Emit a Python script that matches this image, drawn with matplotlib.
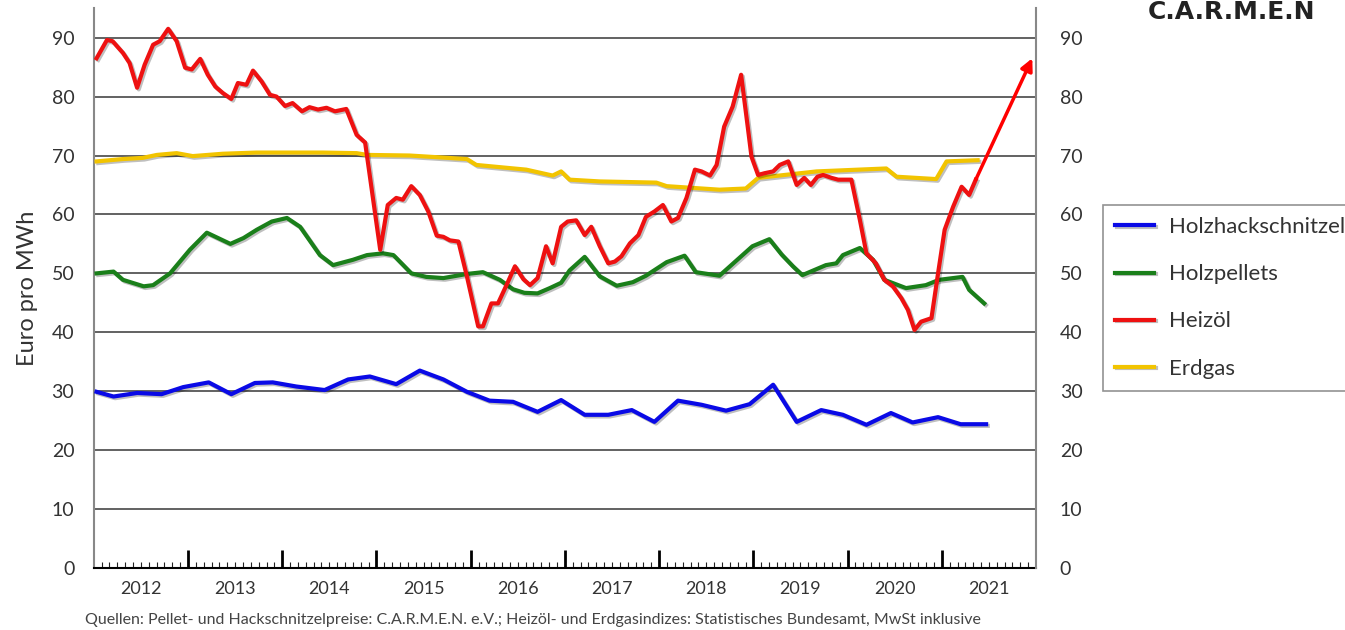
import numpy as np
import matplotlib.pyplot as plt
import matplotlib.patheffects as pe

plt.rcParams['font.family'] = ['Lato', 'DejaVu Sans']

# Holzhackschnitzel, Euro pro MWh
hhs_jahr = [2012.03, 2012.21, 2012.46, 2012.72, 2012.95, 2013.22, 2013.46, 2013.71,
            2013.90, 2014.15, 2014.45, 2014.70, 2014.93, 2015.21, 2015.46, 2015.71,
            2015.96, 2016.20, 2016.45, 2016.71, 2016.96, 2017.21, 2017.46, 2017.71,
            2017.95, 2018.20, 2018.45, 2018.71, 2018.96, 2019.21, 2019.46, 2019.72,
            2019.95, 2020.20, 2020.46, 2020.69, 2020.96, 2021.20, 2021.47]
hhs_preis = [29.9, 29.1, 29.7, 29.5, 30.7, 31.5, 29.5, 31.4,
             31.5, 30.8, 30.2, 32.0, 32.5, 31.2, 33.5, 32.0,
             29.9, 28.4, 28.2, 26.5, 28.5, 26.0, 26.0, 26.8,
             24.8, 28.4, 27.7, 26.7, 27.8, 31.1, 24.8, 26.8,
             26.0, 24.3, 26.3, 24.7, 25.6, 24.4, 24.4]

# Holzpellets
pel_jahr = [2012.03, 2012.21, 2012.31, 2012.53, 2012.63, 2012.81, 2013.02, 2013.20,
            2013.45, 2013.59, 2013.73, 2013.89, 2014.05, 2014.19, 2014.40, 2014.54,
            2014.75, 2014.90, 2015.07, 2015.18, 2015.37, 2015.53, 2015.71, 2015.96,
            2016.13, 2016.31, 2016.45, 2016.57, 2016.71, 2016.84, 2016.96, 2017.05,
            2017.21, 2017.37, 2017.55, 2017.72, 2017.86, 2018.08, 2018.27, 2018.39,
            2018.64, 2018.85, 2018.99, 2019.17, 2019.30, 2019.42, 2019.52, 2019.77,
            2019.88, 2019.95, 2020.13, 2020.27, 2020.39, 2020.62, 2020.83, 2020.97,
            2021.22, 2021.29, 2021.45]
pel_preis = [50.0, 50.3, 48.9, 47.8, 48.0, 50.0, 54.0, 56.9,
             55.0, 56.0, 57.4, 58.8, 59.4, 57.9, 53.1, 51.4,
             52.3, 53.1, 53.4, 53.1, 50.0, 49.4, 49.2, 49.9,
             50.2, 48.9, 47.3, 46.7, 46.6, 47.5, 48.4, 50.5,
             52.8, 49.5, 47.9, 48.5, 49.6, 51.9, 53.0, 50.2,
             49.6, 52.6, 54.6, 55.8, 53.2, 51.2, 49.7, 51.4,
             51.7, 53.1, 54.3, 52.3, 48.9, 47.5, 48.0, 48.9,
             49.4, 47.2, 44.9]

# Heizoel
oel_jahr = [2012.03, 2012.14, 2012.20, 2012.31, 2012.38, 2012.46, 2012.54, 2012.63,
            2012.70, 2012.79, 2012.88, 2012.97, 2013.04, 2013.13, 2013.21, 2013.29,
            2013.37, 2013.46, 2013.53, 2013.62, 2013.69, 2013.78, 2013.87, 2013.94,
            2014.03, 2014.11, 2014.21, 2014.29, 2014.38, 2014.47, 2014.56, 2014.68,
            2014.79, 2014.88, 2015.04, 2015.12, 2015.21, 2015.28, 2015.37, 2015.46,
            2015.55, 2015.64, 2015.71, 2015.78, 2015.87, 2015.96, 2016.08, 2016.13,
            2016.22, 2016.29, 2016.38, 2016.47, 2016.56, 2016.63, 2016.71, 2016.80,
            2016.87, 2016.96, 2017.03, 2017.12, 2017.21, 2017.28, 2017.37, 2017.46,
            2017.53, 2017.60, 2017.69, 2017.78, 2017.86, 2017.95, 2018.04, 2018.13,
            2018.20, 2018.29, 2018.38, 2018.45, 2018.54, 2018.61, 2018.69, 2018.78,
            2018.87, 2018.94, 2018.98, 2019.05, 2019.12, 2019.21, 2019.28, 2019.37,
            2019.46, 2019.54, 2019.61, 2019.68, 2019.74, 2019.83, 2019.90, 2020.04,
            2020.13, 2020.20, 2020.30, 2020.39, 2020.48, 2020.57, 2020.64, 2020.71,
            2020.78, 2020.89, 2020.96, 2021.03, 2021.12, 2021.21, 2021.29, 2021.36]
oel_preis = [86.5, 89.6, 89.4, 87.4, 85.7, 81.5, 85.4, 88.8,
             89.4, 91.5, 89.4, 84.9, 84.6, 86.4, 83.7, 81.7,
             80.6, 79.6, 82.3, 82.0, 84.4, 82.6, 80.3, 80.0,
             78.4, 78.9, 77.5, 78.2, 77.8, 78.1, 77.5, 77.9,
             73.5, 72.2, 54.0, 61.6, 62.8, 62.5, 64.8, 63.3,
             60.5, 56.4, 56.2, 55.6, 55.4, 49.5, 41.0, 41.0,
             44.9, 44.9, 48.0, 51.2, 49.0, 48.0, 49.2, 54.6,
             51.7, 57.9, 58.8, 59.0, 56.5, 57.9, 54.6, 51.7,
             52.0, 52.9, 55.1, 56.5, 59.6, 60.5, 61.6, 58.8,
             59.4, 62.8, 67.6, 67.3, 66.6, 68.4, 74.9, 78.3,
             83.7, 74.9, 69.8, 66.7, 67.0, 67.3, 68.4, 69.0,
             65.0, 66.2, 65.0, 66.4, 66.7, 66.2, 65.9, 65.9,
             59.1, 53.4, 51.7, 48.9, 47.8, 45.8, 43.8, 40.4,
             41.8, 42.4, 50.0, 57.4, 61.3, 64.7, 63.3, 65.9]

# Erdgas
gas_jahr = [2012.03, 2012.31, 2012.52, 2012.67, 2012.88, 2013.05, 2013.37, 2013.73,
            2014.43, 2014.79, 2014.90, 2015.35, 2015.96, 2016.06, 2016.59, 2016.87,
            2016.96, 2017.05, 2017.37, 2017.97, 2018.08, 2018.64, 2018.92, 2019.05,
            2019.67, 2020.41, 2020.52, 2020.94, 2021.05, 2021.38]
gas_preis = [69.0, 69.4, 69.6, 70.1, 70.4, 69.9, 70.3, 70.5,
             70.5, 70.4, 70.1, 70.0, 69.4, 68.4, 67.6, 66.6,
             67.3, 65.9, 65.6, 65.4, 64.8, 64.2, 64.4, 66.2,
             67.3, 67.8, 66.4, 66.0, 69.0, 69.2]

# Trendpfeil Heizoel
pfeil_ziel = (2021.96, 86.5)

jahre = list(range(2012, 2022))
quelle = ("Quellen: Pellet- und Hackschnitzelpreise: C.A.R.M.E.N. e.V.; "
          "Heizöl- und Erdgasindizes: Statistisches Bundesamt, MwSt inklusive")

fig = plt.figure(figsize=(13.45, 6.3), dpi=100)
ax = fig.add_axes([0.0697, 0.0984, 0.7006, 0.8886])
ax.set_xlim(2012, 2022)
ax.set_ylim(0, 95)

schatten = [pe.SimpleLineShadow(offset=(1.2, -1.2), alpha=0.25, shadow_color='black'),
            pe.Normal()]

reihen = [
    (hhs_jahr, hhs_preis, '#0a0ae6', 'Holzhackschnitzel', 3),
    (pel_jahr, pel_preis, '#1a7f1a', 'Holzpellets', 3),
    (oel_jahr, oel_preis, '#ee1111', 'Heizöl', 5),
    (gas_jahr, gas_preis, '#f2c400', 'Erdgas', 4),
]
for x, y, farbe, name, z in reihen:
    ax.plot(x, y, color=farbe, lw=3, label=name, zorder=z,
            solid_joinstyle='round', path_effects=schatten)

ax.annotate('', xy=pfeil_ziel, xytext=(oel_jahr[-1], oel_preis[-1]),
            arrowprops=dict(arrowstyle='-|>', color='#ff0000', lw=2.5,
                            mutation_scale=18, shrinkA=0, shrinkB=0), zorder=6)

# y-Achse links und rechts
ax.set_yticks(range(0, 100, 10))
ax.yaxis.grid(True, color='#555555', lw=1.3)
ax.set_axisbelow(True)
ax.tick_params(axis='y', length=0, pad=14, labelsize=14, labelcolor='#333333')
ax.set_ylabel('Euro pro MWh', fontsize=17, color='#333333')
ax.yaxis.set_label_coords(-0.059, 0.5)

ax2 = ax.twinx()
ax2.set_ylim(0, 95)
ax2.set_yticks(range(0, 100, 10))
ax2.tick_params(axis='y', length=0, pad=17, labelsize=14, labelcolor='#333333')

for a in (ax, ax2):
    a.spines['top'].set_visible(False)
ax.spines['right'].set_visible(False)
ax2.spines['left'].set_visible(False)
ax2.spines['bottom'].set_visible(False)
ax.spines['left'].set_color('#888888')
ax.spines['left'].set_linewidth(1.5)
ax2.spines['right'].set_color('#888888')
ax2.spines['right'].set_linewidth(1.5)
ax.spines['bottom'].set_color('black')
ax.spines['bottom'].set_linewidth(1.5)

# x-Achse: Jahresgrenzen lang, Monate kurz, Beschriftung in Jahresmitte
ax.set_xticks(np.arange(2013, 2022), labels=[])
monate = [2012 + k / 12 for k in range(1, 120) if k % 12]
ax.set_xticks(monate, minor=True)
ax.tick_params(axis='x', which='major', direction='in', length=13, width=2, color='black')
ax.tick_params(axis='x', which='minor', direction='in', length=4, width=0.8, color='#222222')

sek = ax.secondary_xaxis('bottom')
sek.set_xticks([j + 0.5 for j in jahre], labels=[str(j) for j in jahre])
sek.tick_params(length=0, pad=9, labelsize=13, labelcolor='#333333')
sek.spines['bottom'].set_visible(False)

leg = fig.legend(*ax.get_legend_handles_labels(), loc='upper left',
                 bbox_to_anchor=(1103 / 1345, 1 - 205 / 630), frameon=True,
                 fancybox=False, edgecolor='#777777', fontsize=16,
                 labelspacing=1.22, handlelength=1.75, handletextpad=0.68,
                 borderpad=0.55, borderaxespad=0)
leg.get_frame().set_linewidth(1.2)
for t in leg.get_texts():
    t.set_color('#333333')

fig.text(1148 / 1345, 1 - 19 / 630, 'C.A.R.M.E.N', fontsize=18,
         family='DejaVu Sans', fontweight='bold', color='#222222',
         va='baseline', ha='left')
fig.text(85 / 1345, 1 - 620 / 630, quelle, fontsize=11.5, color='#444444', va='center')

fig.savefig('out.png', dpi=100)
